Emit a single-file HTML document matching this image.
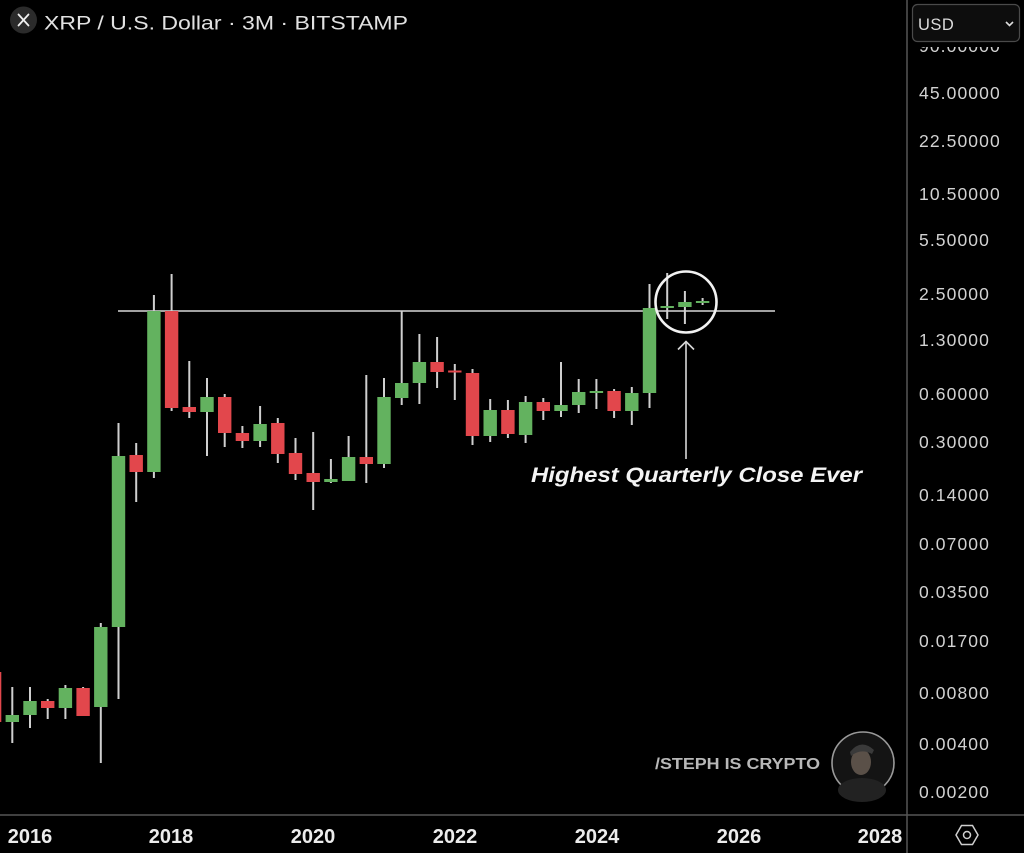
<!DOCTYPE html>
<html><head><meta charset="utf-8"><style>
html,body{margin:0;padding:0;background:#000;}
svg{display:block;}
</style></head><body>
<svg width="1024" height="853" viewBox="0 0 1024 853" xmlns="http://www.w3.org/2000/svg">
<rect x="0" y="0" width="1024" height="853" fill="#000"/>
<!-- resistance line -->
<line x1="118" y1="311" x2="775" y2="311" stroke="#d8d8d8" stroke-width="1.6"/>
<g id="candles"></g>
<!-- circle + arrow -->
<circle cx="686" cy="302" r="30.5" fill="none" stroke="#f2f2f2" stroke-width="2.6"/>
<line x1="686" y1="341" x2="686" y2="459" stroke="#d8d8d8" stroke-width="1.6"/>
<polyline points="678,349.5 686,341.5 694,349.5" fill="none" stroke="#d8d8d8" stroke-width="1.6"/>
<text x="531" y="482" font-family="Liberation Sans, sans-serif" font-size="21" font-weight="bold" font-style="italic" fill="#f4f4f4" textLength="331" lengthAdjust="spacingAndGlyphs">Highest Quarterly Close Ever</text>
<!-- watermark -->
<text x="655" y="769" font-family="Liberation Sans, sans-serif" font-size="16" font-weight="bold" fill="#b8b8b8" textLength="165" lengthAdjust="spacingAndGlyphs">/STEPH IS CRYPTO</text>
<circle cx="863" cy="763" r="31" fill="#141414" stroke="#9a9a9a" stroke-width="1.6"/>
<ellipse cx="862" cy="790" rx="24" ry="12" fill="#222"/>
<ellipse cx="861" cy="762" rx="10" ry="13" fill="#5a5048"/>
<path d="M850 752 Q861 738 874 750 L872 754 Q861 748 851 756 Z" fill="#3a3a3a"/>
<!-- axes separators -->
<line x1="907" y1="0" x2="907" y2="853" stroke="#555" stroke-width="1.5"/>
<line x1="0" y1="815" x2="1024" y2="815" stroke="#555" stroke-width="1.5"/>
<!-- y axis labels -->
<g font-family="Liberation Sans, sans-serif" font-size="17.5" fill="#d2d2d2" letter-spacing="1.1">
<text x="919" y="52">90.00000</text>
<text x="919" y="99">45.00000</text>
<text x="919" y="147">22.50000</text>
<text x="919" y="200">10.50000</text>
<text x="919" y="246">5.50000</text>
<text x="919" y="300">2.50000</text>
<text x="919" y="346">1.30000</text>
<text x="919" y="400">0.60000</text>
<text x="919" y="448">0.30000</text>
<text x="919" y="501">0.14000</text>
<text x="919" y="550">0.07000</text>
<text x="919" y="598">0.03500</text>
<text x="919" y="647">0.01700</text>
<text x="919" y="699">0.00800</text>
<text x="919" y="750">0.00400</text>
<text x="919" y="798">0.00200</text>
</g>
<!-- mask over top label -->
<rect x="908" y="0" width="116" height="47" fill="#000"/>
<!-- USD dropdown -->
<rect x="912.5" y="4.5" width="107" height="37" rx="5" fill="#0d0d0d" stroke="#4a4a4a" stroke-width="1.2"/>
<text x="918" y="30" font-family="Liberation Sans, sans-serif" font-size="16.5" fill="#dcdcdc" letter-spacing="0.5">USD</text>
<polyline points="1006,22 1009.5,25.5 1013,22" fill="none" stroke="#dcdcdc" stroke-width="1.6"/>
<!-- x axis labels -->
<g font-family="Liberation Sans, sans-serif" font-size="20" font-weight="bold" fill="#ececec" text-anchor="middle">
<text x="30" y="843">2016</text>
<text x="171" y="843">2018</text>
<text x="313" y="843">2020</text>
<text x="455" y="843">2022</text>
<text x="597" y="843">2024</text>
<text x="739" y="843">2026</text>
<text x="880" y="843">2028</text>
</g>
<!-- gear -->
<polygon points="956,835 961.5,825.5 972.5,825.5 978,835 972.5,844.5 961.5,844.5" fill="none" stroke="#cfcfcf" stroke-width="1.5"/>
<circle cx="967" cy="835" r="3.5" fill="none" stroke="#cfcfcf" stroke-width="1.5"/>
<!-- header -->
<circle cx="23.5" cy="20" r="13.5" fill="#2b2b2b"/>
<path d="M18.5 14.5 L28.5 25.5 M28.5 14.5 L18.5 25.5" stroke="#f0f0f0" stroke-width="1.8" stroke-linecap="round"/>
<text x="44" y="29.5" font-family="Liberation Sans, sans-serif" font-size="19" fill="#e2e2e2" textLength="364" lengthAdjust="spacingAndGlyphs">XRP / U.S. Dollar · 3M · BITSTAMP</text>
</svg>
<script>
(function(){
var d=[
[-2,'R',672,722,665,725],[-1,'G',715,722,687,743],[0,'G',701,715,687,728],[1,'R',701,708,699,719],
[2,'G',688,708,685,719],[3,'R',688,716,687,716],[4,'G',627,707,623,763],[5,'G',456,627,423,699],
[6,'R',455,472,443,502],[7,'G',311,472,295,478],[8,'R',311,408,274,411],[9,'R',407,412,361,418],
[10,'G',397,412,378,456],[11,'R',397,433,394,447],[12,'R',433,441,426,448],[13,'G',424,441,406,447],
[14,'R',423,454,418,463],[15,'R',453,474,438,480],[16,'R',473,482,432,510],[17,'G',479,482,459,483],
[18,'G',457,481,436,481],[19,'R',457,464,375,483],[20,'G',397,464,378,468],[21,'G',383,398,311,405],
[22,'G',362,383,334,404],[23,'R',362,372,337,388],[24,'R',370.5,372,364,400],[25,'R',373,436,369,445],
[26,'G',410,436,399,442],[27,'R',410,434,400,438],[28,'G',402,435,396,443],[29,'R',402,411,398,420],
[30,'G',405,411,362,417],[31,'G',392,405,379,413],[32,'G',391,393,379,409],[33,'R',391,411,389,418],
[34,'G',393,411,387,425],[35,'G',308,393,284,408],[36,'G',306,308,273,319],[37,'G',302,307,291,324],
[38,'G',301,303,298,305]];
var g=document.getElementById('candles'),h='';
d.forEach(function(c){
var x=30+17.7*c[0],col=c[1]=='G'?'#63b25f':'#e2474c';
h+='<rect x="'+(x-1)+'" y="'+c[4]+'" width="2" height="'+(c[5]-c[4])+'" fill="#cfcfcf"/>';
var bh=Math.max(2,c[3]-c[2]);
h+='<rect x="'+(x-6.7)+'" y="'+c[2]+'" width="13.4" height="'+bh+'" fill="'+col+'"/>';
});
g.innerHTML=h;
})();
</script>
</body></html>
